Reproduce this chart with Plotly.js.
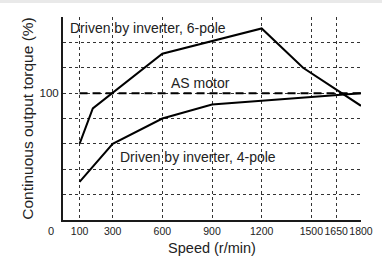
<!DOCTYPE html>
<html>
<head>
<meta charset="utf-8">
<script src="https://cdn.plot.ly/plotly-3.0.1.min.js"></script>
<style>html,body{margin:0;padding:0;background:#fff;}#chart{width:382px;height:263px;}</style>
</head>
<body>
<div id="chart"></div>
<script>
// Speed (r/min) and continuous output torque (%)
const speed6 = [100, 180, 600, 1200, 1450, 1800];
const torque6 = [60, 88, 131, 151, 120, 90];
const speed4 = [100, 300, 600, 900, 1800];
const torque4 = [30, 60, 80, 91, 100];
const speedAS = [100, 1800];
const torqueAS = [100, 100];
const xTicks = [100, 300, 600, 900, 1200, 1500, 1650, 1800];
const yTicks = [20, 40, 60, 80, 100, 120, 140, 160];
const yTickText = ['', '', '', '', '100', '', '', ''];

const ink = '#1a1a1a';
const txt = '#222';
const lineStyle = {color: '#000', width: 2};
const tickFam = 'Liberation Sans, Arial, sans-serif';

const traces = [
  {x: speed6, y: torque6, mode: 'lines', line: lineStyle, hoverinfo: 'skip'},
  {x: speed4, y: torque4, mode: 'lines', line: lineStyle, hoverinfo: 'skip'},
  {x: speedAS, y: torqueAS, mode: 'lines', line: {color: '#000', width: 2, dash: '8px,5px'}, hoverinfo: 'skip'}
];

const layout = {
  width: 382, height: 263,
  margin: {l: 63, r: 21, t: 17, b: 43},
  paper_bgcolor: '#fff', plot_bgcolor: '#fff',
  showlegend: false,
  font: {family: 'Liberation Sans, Arial, sans-serif', color: txt},
  xaxis: {
    range: [0, 1800], tickvals: xTicks, ticktext: xTicks.map(String), tickangle: 0,
    showgrid: true, gridcolor: '#333', griddash: 'dot', gridwidth: 1,
    showline: true, linecolor: ink, linewidth: 2, zeroline: false,
    ticks: '', ticklen: 0,
    tickfont: {family: tickFam, size: 10.5, color: txt},
    title: {text: 'Speed (r/min)', font: {size: 14.5, color: txt}, standoff: 7},
    fixedrange: true
  },
  yaxis: {
    range: [0, 160], tickvals: yTicks, ticktext: yTickText,
    showgrid: true, gridcolor: '#333', griddash: 'dot', gridwidth: 1,
    showline: true, linecolor: ink, linewidth: 2, zeroline: false,
    ticks: '', ticklen: 0,
    tickfont: {family: tickFam, size: 11.5, color: txt},
    title: {text: 'Continuous output torque (%)', font: {size: 15.5, color: txt}, standoff: 2},
    fixedrange: true
  },
  shapes: [
    {type: 'rect', xref: 'paper', yref: 'paper', x0: -1, x1: 2, y0: 1.069, y1: 1.2,
     fillcolor: '#e9e9e9', line: {width: 0}, layer: 'below'}
  ],
  annotations: [
    {x: 30, y: 151, xref: 'x', yref: 'y', text: 'Driven by inverter, 6-pole', showarrow: false,
     xanchor: 'left', yanchor: 'middle', font: {size: 14, color: txt}},
    {x: 641, y: 108, xref: 'x', yref: 'y', text: 'AS motor', showarrow: false,
     xanchor: 'left', yanchor: 'middle', font: {size: 14, color: txt}},
    {x: 333, y: 50, xref: 'x', yref: 'y', text: 'Driven by inverter, 4-pole', showarrow: false,
     xanchor: 'left', yanchor: 'middle', font: {size: 14, color: txt}},
    {x: -0.04, y: 0, xref: 'paper', yref: 'paper', text: '0', showarrow: false,
     xanchor: 'center', yanchor: 'top', yshift: -3,
     font: {family: tickFam, size: 11, color: txt}}
  ]
};

Plotly.newPlot('chart', traces, layout, {displayModeBar: false, staticPlot: true});
</script>
</body>
</html>
